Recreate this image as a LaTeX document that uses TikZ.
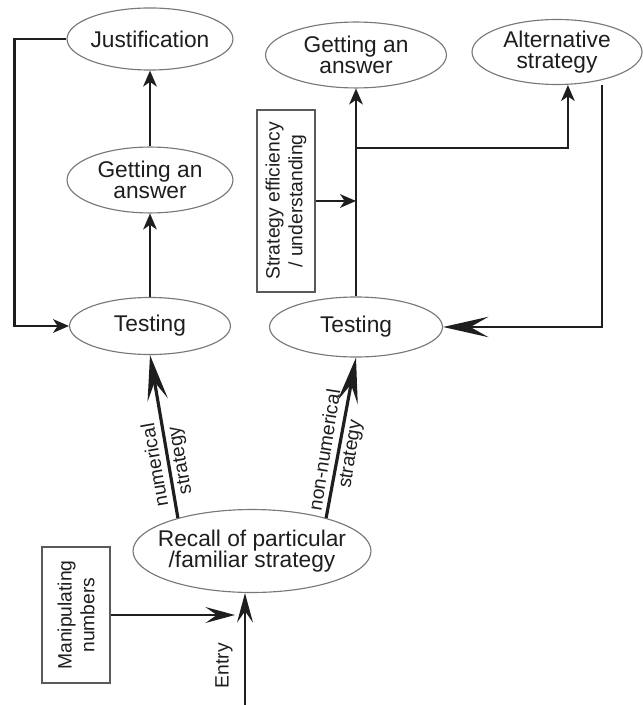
\documentclass[tikz,border=0pt]{standalone}
\usepackage{fontspec}
\setmainfont{Liberation Sans}
\usetikzlibrary{arrows.meta,shapes.geometric}
\definecolor{ovalGray}{RGB}{120,120,120}
\definecolor{boxGray}{RGB}{90,90,90}
\definecolor{inkGray}{RGB}{30,30,30}
\tikzset{
  font=\fontsize{10}{9.5}\selectfont,
  oval/.style 2 args={draw=ovalGray,shape=ellipse,line width=0.5pt,inner sep=-20pt,minimum width=#1,minimum height=#2,align=center,text=inkGray},
  rect/.style 2 args={draw=boxGray,shape=rectangle,line width=0.6pt,rotate=90,minimum width=#1,minimum height=#2,align=center,font=\fontsize{8.5}{10}\selectfont,text=inkGray},
  tag/.style={rotate=#1,align=center,font=\fontsize{8.5}{11}\selectfont,text=inkGray},
  line/.style={draw,inkGray,line width=0.9pt},
  link/.style={line,-{Stealth[length=7pt,width=6pt,inset=2pt]}},
  longlink/.style={line,-{Stealth[length=13pt,width=7pt,inset=5pt]}},
  biglink/.style={line,line width=1.4pt,-{Stealth[length=20pt,width=9pt,inset=8pt]}},
}

\begin{document}
\begin{tikzpicture}[x=0.44pt,y=-0.44pt]
    \useasboundingbox (0,0) rectangle (642,705);
    \node (just) [oval={73pt}{27.3pt}] at (150,39) {Justification};
    \node (ans1) [oval={73pt}{29pt}] at (150,180) {Getting an\\answer};
    \node (tst1) [oval={70.8pt}{25.1pt}] at (150,326) {Testing};
    \node (ans2) [oval={79.6pt}{29pt}] at (356,55) {Getting an\\answer};
    \node (alt) [oval={74.8pt}{28.6pt}] at (557,52) {Alternative\\strategy};
    \node (tst2) [oval={76.1pt}{26.4pt}] at (356,327) {Testing};
    \node (rec) [oval={104.7pt}{36.5pt}] at (252,551) {Recall of particular\\/familiar strategy};
    \node (sebox) [rect={80pt}{25.5pt}] at (286,201) {Strategy efficiency\\/ understanding};
    \node (mnb) [rect={59.8pt}{29.9pt}] at (76,615) {Manipulating\\numbers};
    \coordinate (fork) at (tst2.north |- 0,148);
    \coordinate (entry) at (245,705);

    \path [link] (tst1) -- (ans1);
    \path [link] (ans1) -- (just);
    \path [link] (just.west) -- ++(-52,0) |- (tst1);
    \path [link] (tst2) -- (ans2);
    \path [link] (fork) -| ([xshift=4.8pt]alt.south);
    \path [link] (sebox) -- (sebox -| fork);
    \path [biglink,line width=1.2pt] ([xshift=19.8pt]alt.south) |- (tst2);
    \path [biglink] (rec.156) -- (tst1.south) node[tag=100,pos=0.34] {numerical\\strategy};
    \path [biglink] (rec.24) -- (tst2.south) node[tag=81,pos=0.41] {non-numerical\\strategy};
    \path [longlink] (entry) -- (entry |- rec.south) node[tag=90,pos=0.35,anchor=south,inner sep=5pt] {Entry};
    \path [longlink,shorten >=4.4pt] (mnb) -- (mnb -| entry);
\end{tikzpicture}
\end{document}
